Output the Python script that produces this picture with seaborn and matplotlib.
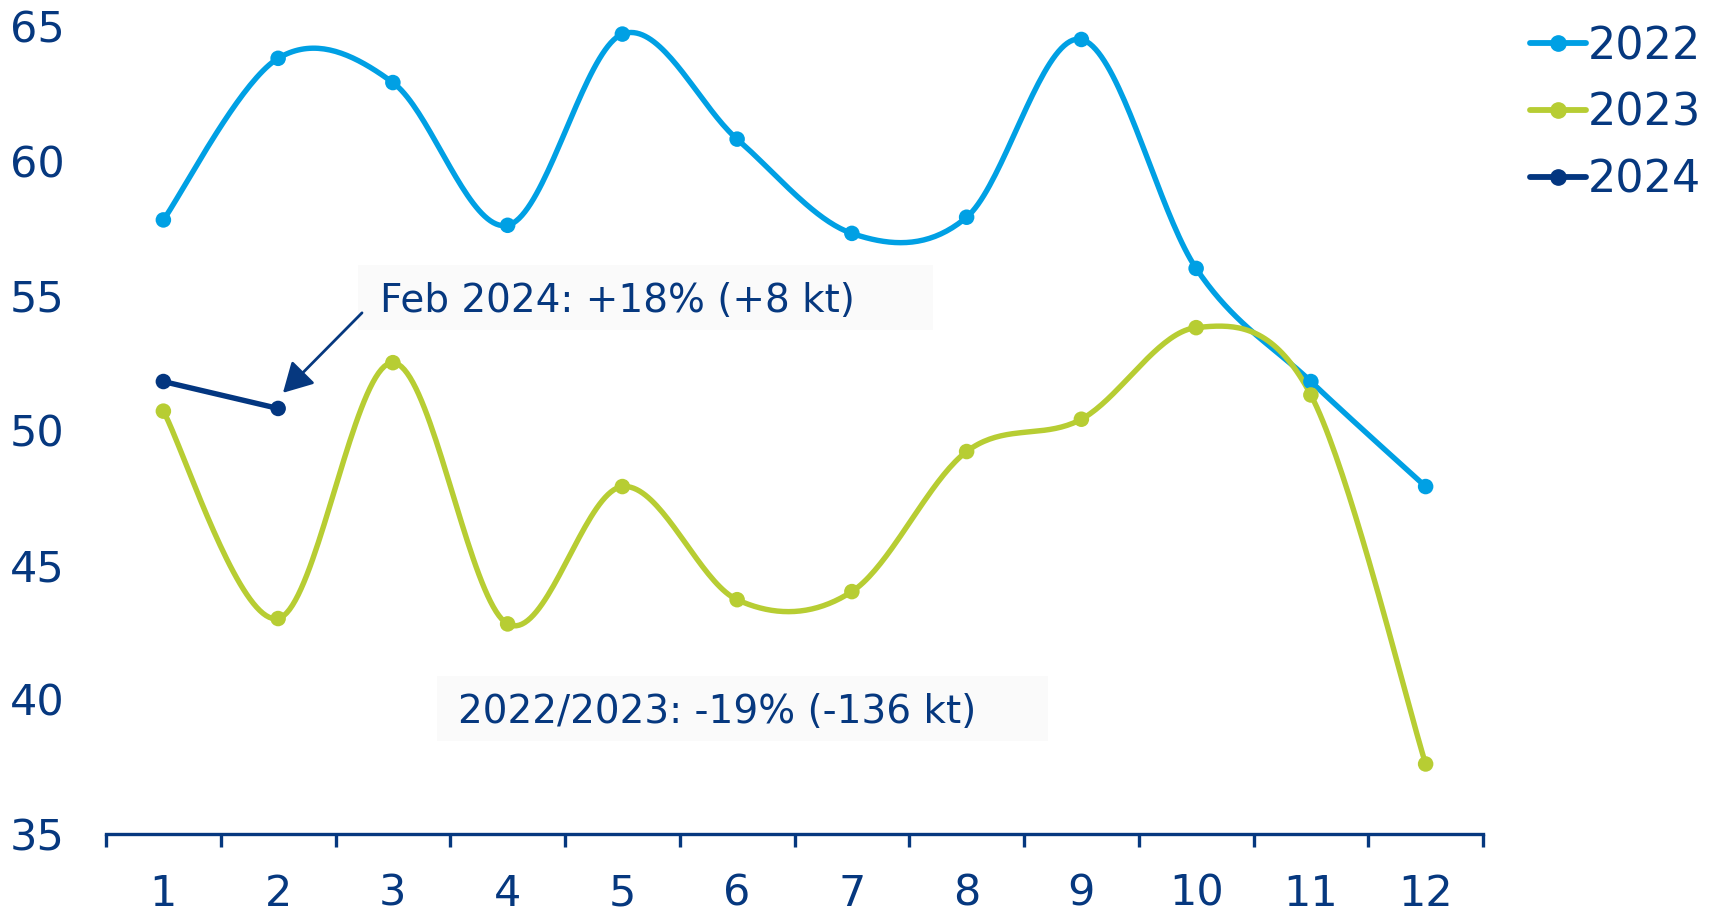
import numpy as np
import pandas as pd
import matplotlib
matplotlib.use("Agg")
import matplotlib.pyplot as plt
from matplotlib.lines import Line2D
from matplotlib.patches import Rectangle
from matplotlib.ticker import FixedLocator, FixedFormatter, NullFormatter
import seaborn as sns

# ---------------- data ----------------
months = [1, 2, 3, 4, 5, 6, 7, 8, 9, 10, 11, 12]
values_2022 = [57.8, 63.8, 62.9, 57.6, 64.7, 60.8, 57.3, 57.9, 64.5, 56.0, 51.8, 47.9]
values_2023 = [50.7, 43.0, 52.5, 42.8, 47.9, 43.7, 44.0, 49.2, 50.4, 53.8, 51.3, 37.6]
values_2024 = [51.8, 50.8]
series_names = ["2022", "2023", "2024"]
yticks = [35, 40, 45, 50, 55, 60, 65]
note_feb = "Feb 2024: +18% (+8 kt)"
note_year = "2022/2023: -19% (-136 kt)"

colors = {"2022": "#00a0e4", "2023": "#b7cd33", "2024": "#033680"}
text_color = "#06387f"
box_color = "#fafafa"

sns.set_style("white")
plt.rcParams["font.family"] = ["DejaVu Sans"]


def smooth(xs, ys, n=40):
    """Catmull-Rom rendering of the series (like a spreadsheet 'smoothed line')."""
    pts = np.column_stack([xs, ys]).astype(float)
    P = np.vstack([pts[0], pts, pts[-1]])
    out = []
    t = np.linspace(0, 1, n, endpoint=False)[:, None]
    for i in range(1, len(P) - 2):
        p0, p1, p2, p3 = P[i - 1], P[i], P[i + 1], P[i + 2]
        seg = 0.5 * (2 * p1 + (-p0 + p2) * t + (2 * p0 - 5 * p1 + 4 * p2 - p3) * t ** 2
                     + (-p0 + 3 * p1 - 3 * p2 + p3) * t ** 3)
        out.append(seg)
    out.append(P[-2][None, :])
    return np.vstack(out)


series = {"2022": values_2022, "2023": values_2023, "2024": values_2024}

pts_rows = []
curve_rows = []
for name in series_names:
    vals = series[name]
    xs = [m - 1 for m in months[:len(vals)]]
    for x, v in zip(xs, vals):
        pts_rows.append({"x": x, "y": v, "year": name})
    c = smooth(xs, vals)
    for k, (cx, cy) in enumerate(c):
        curve_rows.append({"x": cx, "y": cy, "year": name, "k": k})
pts_df = pd.DataFrame(pts_rows)
curve_df = pd.DataFrame(curve_rows)

W, H = 1713, 913
fig = plt.figure(figsize=(W / 100, H / 100), dpi=100)
ax_left, ax_right, ax_bottom, ax_top = 106, 1483, 834, 26
ax = fig.add_axes([ax_left / W, 1 - ax_bottom / H, (ax_right - ax_left) / W, (ax_bottom - ax_top) / H])

for name in series_names:
    sub = curve_df[curve_df["year"] == name]
    sns.lineplot(data=sub, x="x", y="y", sort=False, estimator=None, color=colors[name],
                 linewidth=3.9, ax=ax, legend=False, zorder=3)
sns.scatterplot(data=pts_df, x="x", y="y", hue="year", palette=colors, s=125, linewidth=0,
                ax=ax, legend=False, zorder=4)

ax.set_xlim(-0.5, 11.5)
ax.set_ylim(35, 65)
ax.set_xlabel("")
ax.set_ylabel("")

# x axis: boundary ticks (major) and centered labels (minor)
ax.xaxis.set_major_locator(FixedLocator(np.arange(-0.5, 12, 1.0)))
ax.xaxis.set_major_formatter(NullFormatter())
ax.xaxis.set_minor_locator(FixedLocator(np.arange(0, 12, 1.0)))
ax.xaxis.set_minor_formatter(FixedFormatter([str(m) for m in months]))
ax.tick_params(axis="x", which="major", direction="out", length=9, width=2.4,
               color=text_color, bottom=True)
ax.tick_params(axis="x", which="minor", length=0, pad=28, labelsize=31,
               labelcolor=text_color, bottom=True)

ax.set_yticks(yticks)
ax.set_yticklabels([str(v) for v in yticks])
ax.tick_params(axis="y", length=0, pad=30, labelsize=31, labelcolor=text_color)

for s in ["left", "right", "top"]:
    ax.spines[s].set_visible(False)
ax.spines["bottom"].set_color(text_color)
ax.spines["bottom"].set_linewidth(2.4)
ax.grid(False)

# annotation boxes
ax.add_patch(Rectangle((1.696, 53.72), 6.707 - 1.696, 56.13 - 53.72, facecolor=box_color,
                       edgecolor="none", zorder=1))
ax.text(1.888, 54.38, note_feb, color=text_color, fontsize=28, va="baseline", ha="left", zorder=5)
ax.add_patch(Rectangle((2.385, 38.45), 7.709 - 2.385, 40.87 - 38.45, facecolor=box_color,
                       edgecolor="none", zorder=1))
ax.text(2.567, 39.12, note_year, color=text_color, fontsize=28, va="baseline", ha="left", zorder=5)

ax.annotate("", xy=(1.042, 51.38), xytext=(1.731, 54.35),
            arrowprops=dict(arrowstyle="-|>,head_length=0.9,head_width=0.5", color=text_color,
                            lw=2, shrinkA=0, shrinkB=0, mutation_scale=20), zorder=5)

# legend
handles = [Line2D([0], [0], color=colors[n], lw=4.2, marker="o", markersize=11) for n in series_names]
leg = fig.legend(handles, series_names, loc="upper left",
                 bbox_to_anchor=(1530 / W, 1 - 25 / H), frameon=False,
                 fontsize=32, labelcolor=text_color, handlelength=1.25, handletextpad=0.05,
                 labelspacing=0.53, borderpad=0, borderaxespad=0)

fig.savefig("out.png", dpi=100)
